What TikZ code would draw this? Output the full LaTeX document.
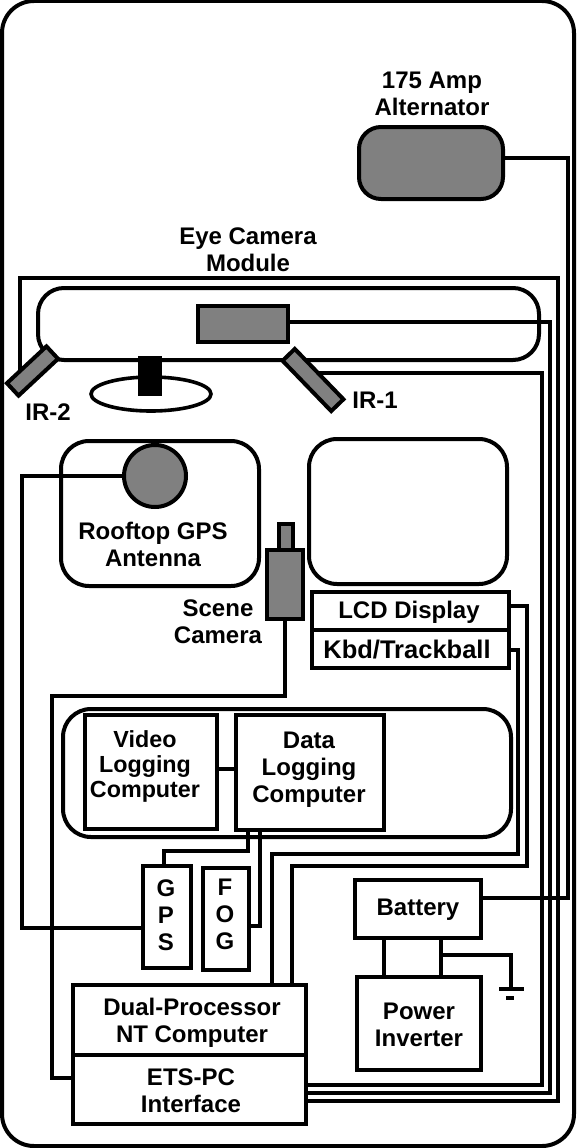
\documentclass[tikz,border=0pt]{standalone}
\usepackage{fontspec}
\setmainfont{Liberation Sans}
\usetikzlibrary{calc}
\definecolor{midgray}{RGB}{128,128,128}
\tikzset{
  shp/.style={draw=black,line width=4pt,inner sep=0pt,outer sep=0pt,rectangle,align=center},
  roundbox/.style={shp,rounded corners=28pt},
  grayfill/.style={fill=midgray},
  wire/.style={draw=black,line width=3.6pt,line join=miter},
  lbl/.style={inner sep=0pt,outer sep=0pt,align=center,font=\fontsize{24}{27}\selectfont\bfseries}
}
\newcommand{\bx}[6][]{%
  \pgfmathsetmacro{\bxw}{#5-#3}\pgfmathsetmacro{\bxh}{#6-#4}%
  \pgfmathsetmacro{\bxcx}{(#3+#5)/2}\pgfmathsetmacro{\bxcy}{(#4+#6)/2}%
  \node[shp,minimum width=\bxw pt,minimum height=\bxh pt,#1] (#2) at (\bxcx,\bxcy) {};}
\begin{document}
\begin{tikzpicture}[x=1pt,y=-1pt]
\useasboundingbox (0,0) rectangle (576,1148);
\fill[white] (0,0) rectangle (576,1148);
% frames
\bx[roundbox,rounded corners=32pt]{frame}{2}{1}{574}{1146}
\bx[roundbox,rounded corners=26pt]{band}{38}{288}{539}{360}
\bx[roundbox]{roof}{61}{441}{259}{586}
\bx[roundbox]{blank}{309}{439}{507}{584}
\bx[roundbox]{logger}{63}{709}{511}{837}
% boxes
\bx[roundbox,rounded corners=22pt,grayfill]{alt}{359}{127}{503}{199}
\bx[grayfill]{eyecam}{198}{306}{288}{342}
\draw[line width=3.6pt] (151,394) ellipse (60 and 17);
\bx[fill=black]{stem}{140}{358}{160}{394}
\node[shp,circle,grayfill,minimum size=62pt] (gpsant) at (155,476) {};
\bx[grayfill]{lens}{279}{524}{293}{550}
\bx[grayfill]{scene}{267}{550}{303}{619}
\bx{lcd}{312}{592}{509}{630}
\bx{kbd}{312}{630}{509}{668}
\bx{video}{85}{715}{217}{829}
\bx{data}{236}{715}{384}{830}
\bx{gps}{143}{866}{191}{968}
\bx{fog}{203}{868}{249}{970}
\bx{battery}{355}{880}{481}{938}
\bx{inverter}{357}{977}{481}{1070}
\bx{dual}{73}{985}{306}{1055}
\bx{ets}{73}{1055}{306}{1124}
% ground
\coordinate (gnd) at (511,989);
\draw[line width=4pt] (499,989) -- (524,989);
\draw[line width=4pt] (506,998) -- (514,998);
% tilted emitters' positions
\coordinate (irtwoc) at (32.5,371);
\coordinate (ironec) at (313,380);
% wires
\draw[wire] (alt.east |- 0,158) -- (568,158) -- (568,898) -- (battery.east |- 0,898);
\draw[wire] (eyecam.east |- 0,322) -- (550,322) -- (550,1093) -- (ets.east |- 0,1093);
\draw[wire] (ironec |- 0,373) -- (542,373) -- (542,1085) -- (ets.east |- 0,1085);
\draw[wire] (20,0 |- irtwoc) -- (20,278) -- (558,278) -- (558,1101) -- (ets.east |- 0,1101);
\draw[wire] (gpsant.west) -- (22,476) -- (22,928) -- (gps.west |- 0,928);
\draw[wire] (scene.south) -- (285,696) -- (52,696) -- (52,1078) -- (ets.west |- 0,1078);
\draw[wire] (lcd.east |- 0,606) -- (527,606) -- (527,866) -- (292,866) -- (292,985);
\draw[wire] (kbd.east |- 0,650) -- (518,650) -- (518,854) -- (272,854) -- (272,985);
\draw[wire] (video.east |- 0,769) -- (data.west |- 0,769);
\draw[wire] (248,830) -- (248,851) -- (164,851) -- (164,866);
\draw[wire] (260,830) -- (260,926) -- (fog.east |- 0,926);
\draw[wire] (384,938) -- (384,977);
\draw[wire] (441,938) -- (441,977);
\draw[wire] (441,955) -- (511,955) -- (gnd);
% tilted emitters over the wires
\node[shp,grayfill,minimum width=54pt,minimum height=17pt,rotate=43] (irtwo) at (irtwoc) {};
\node[shp,grayfill,minimum width=70pt,minimum height=17pt,rotate=-46] (irone) at (ironec) {};
% labels
\node[lbl] (tAlt) at (432,94) {175 Amp\\Alternator};
\node[lbl] (tEye) at (248,250) {Eye Camera\\Module};
\node[lbl] (tIRtwo) at (48,412) {IR-2};
\node[lbl] (tIRone) at (375,400) {IR-1};
\node[lbl] (tRoof) at (153,544) {Rooftop GPS\\Antenna};
\node[lbl] (tScene) at (218,622) {Scene\\Camera};
\node[lbl] (tLcd) at (409,612) {LCD Display};
\node[lbl,font=\fontsize{25.5}{27}\selectfont\bfseries] (tKbd) at (407,650) {Kbd/Trackball};
\node[lbl,font=\fontsize{23.3}{25}\selectfont\bfseries] (tVideo) at (145,766) {Video\\Logging\\Computer};
\node[lbl] (tData) at (309,770) {Data\\Logging\\Computer};
\node[lbl] (tGps) at (166,915) {G\\P\\S};
\node[lbl] (tFog) at (225,914) {F\\O\\G};
\node[lbl] (tBat) at (418,910) {Battery};
\node[lbl] (tInv) at (419,1025) {Power\\Inverter};
\node[lbl] (tDual) at (192,1023) {Dual-Processor\\NT Computer};
\node[lbl] (tEts) at (191,1091) {ETS-PC\\Interface};
\end{tikzpicture}
\end{document}
